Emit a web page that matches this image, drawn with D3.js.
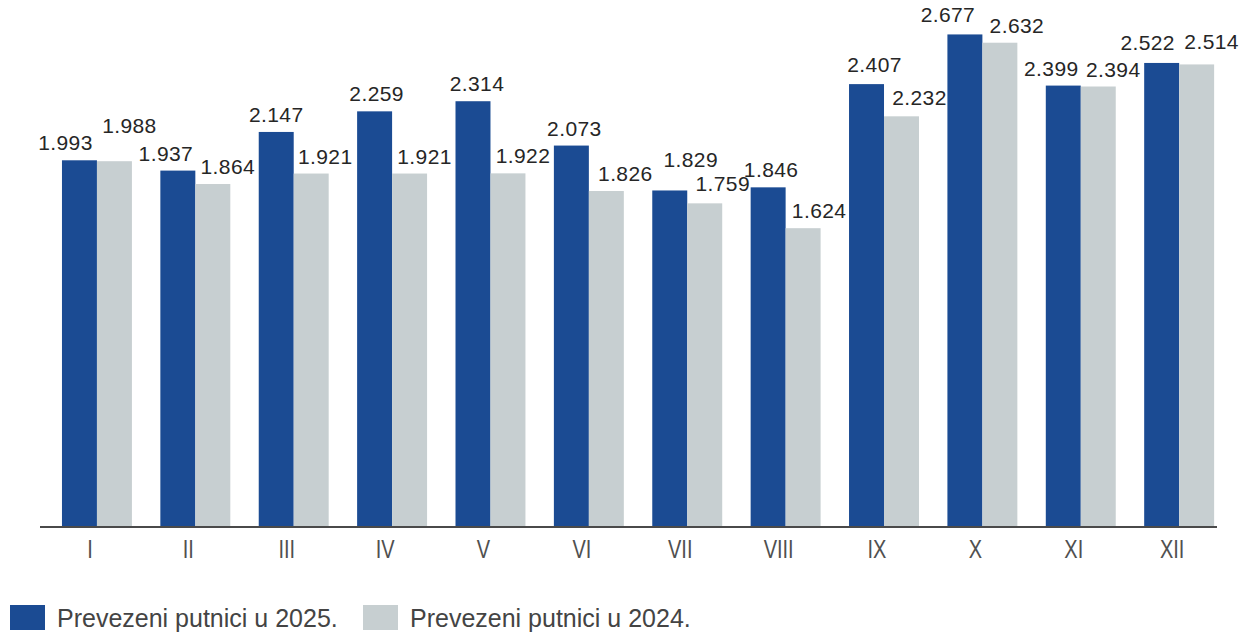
<!DOCTYPE html>
<html><head><meta charset="utf-8">
<script src="https://cdn.jsdelivr.net/npm/d3@7"></script>
<style>body{margin:0;background:#fff}svg{display:block}</style>
</head><body><svg id="c" width="1243" height="637"></svg>
<script>
const months = ["I","II","III","IV","V","VI","VII","VIII","IX","X","XI","XII"];
const values2025 = [1.993,1.937,2.147,2.259,2.314,2.073,1.829,1.846,2.407,2.677,2.399,2.522];
const values2024 = [1.988,1.864,1.921,1.921,1.922,1.826,1.759,1.624,2.232,2.632,2.394,2.514];
const seriesNames = ["Prevezeni putnici u 2025.","Prevezeni putnici u 2024."];
const colors = ["#1b4b93","#c7cfd1"];
// label layout nudges (px), as hand-placed in the reference
const labelDx = [[-14,-12,0,2,4,3,21,3,8,-17,-12,-14],[15,15,14,15,15,19,18,16,18,17,15,15]];
const labelRaise = [[10,10,10,10,10,10,23,10,12,12,10,13],[28,10,10,10,10,10,12,10,11,10,10,15]];

const svg = d3.select("#c");
const baseY = 527;
const x = d3.scaleBand().domain(months).range([54.1, 1222]).paddingInner(0.289).paddingOuter(0.08);
const x1 = d3.scaleBand().domain([0,1]).range([0, x.bandwidth()]);
const y = d3.scaleLinear().domain([0, 2.85]).range([baseY, baseY - 2.85*184]);
const fmt = d3.format(".3f");

const data = months.map((m,i)=>({m, i, v:[values2025[i], values2024[i]]}));
const g = svg.selectAll("g.grp").data(data).join("g").attr("class","grp")
  .attr("transform", d=>`translate(${x(d.m)},0)`);
g.selectAll("rect").data(d=>d.v.map((v,k)=>({v,k,i:d.i}))).join("rect")
  .attr("x", d=>x1(d.k)).attr("width", x1.bandwidth())
  .attr("y", d=>y(d.v)).attr("height", d=>y(0)-y(d.v))
  .attr("fill", d=>colors[d.k]);
g.selectAll("text").data(d=>d.v.map((v,k)=>({v,k,i:d.i}))).join("text")
  .attr("x", d=>x1(d.k)+x1.bandwidth()/2 + labelDx[d.k][d.i])
  .attr("y", d=>y(d.v)-labelRaise[d.k][d.i])
  .attr("text-anchor","middle")
  .attr("font-family","Liberation Sans, Arial, sans-serif")
  .attr("font-size",21).attr("letter-spacing","0.4px").attr("fill","#262626")
  .text(d=>fmt(d.v));

// axis
const ax = svg.append("g").attr("transform",`translate(0,${baseY})`)
  .call(d3.axisBottom(x).tickSize(0));
ax.select(".domain").attr("stroke","#4a4a4a").attr("stroke-width",2).attr("d","M40,0H1217");
ax.selectAll(".tick text")
  .attr("dy", null).attr("y", 31)
  .attr("transform","translate(-7,0) scale(0.8,1)")
  .attr("font-family","Liberation Sans, Arial, sans-serif")
  .attr("font-size",25).attr("fill","#505050");

// legend
const leg = svg.append("g");
const legX = [10, 363];
seriesNames.forEach((n,k)=>{
  leg.append("rect").attr("x",legX[k]).attr("y",605).attr("width",35).attr("height",25).attr("fill",colors[k]);
  leg.append("text").attr("x",legX[k]+47).attr("y",627)
    .attr("font-family","Liberation Sans, Arial, sans-serif")
    .attr("font-size",25).attr("fill","#444").text(n);
});
</script></body></html>
